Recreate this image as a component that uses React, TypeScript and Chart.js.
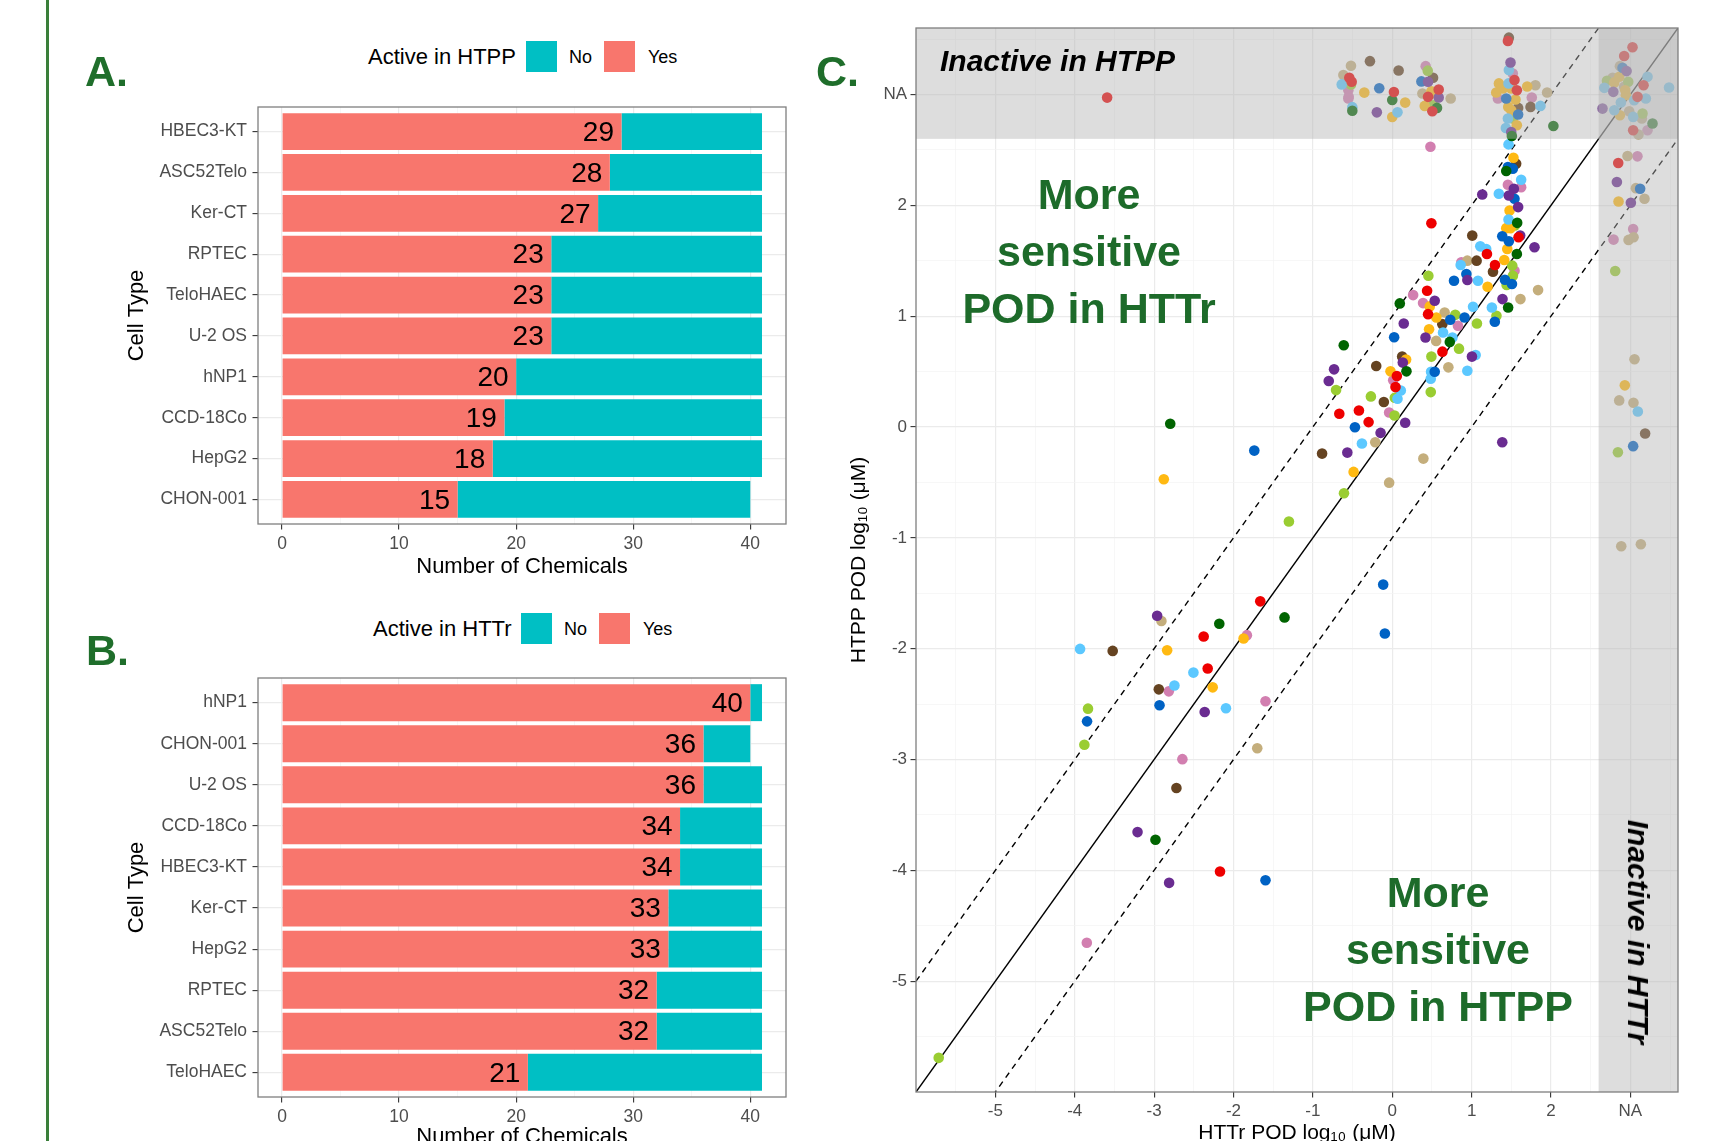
import React, { useEffect, useRef } from 'react';
import { Chart, registerables } from 'chart.js';
Chart.register(...registerables);

const FONT = "'Liberation Sans', Arial, Helvetica, sans-serif";
Chart.defaults.font.family = FONT;

// ---------- Panel A: Active in HTPP ----------
const htppCells = ['HBEC3-KT', 'ASC52Telo', 'Ker-CT', 'RPTEC', 'TeloHAEC', 'U-2 OS', 'hNP1', 'CCD-18Co', 'HepG2', 'CHON-001'];
const htppYes = [29, 28, 27, 23, 23, 23, 20, 19, 18, 15];
const htppNo = [12, 13, 14, 18, 18, 18, 21, 22, 23, 25];

// ---------- Panel B: Active in HTTr ----------
const httrCells = ['hNP1', 'CHON-001', 'U-2 OS', 'CCD-18Co', 'HBEC3-KT', 'Ker-CT', 'HepG2', 'RPTEC', 'ASC52Telo', 'TeloHAEC'];
const httrYes = [40, 36, 36, 34, 34, 33, 33, 32, 32, 21];
const httrNo = [1, 4, 5, 7, 7, 8, 8, 9, 9, 20];

const barTickValues = [0, 5, 10, 15, 20, 25, 30, 35, 40];
const barTickLabels = ['0', '', '10', '', '20', '', '30', '', '40'];

// ---------- Panel C: HTTr POD (x) vs HTPP POD (y), log10 uM; NA plotted at 3 ----------
const podTickValues = [-5, -4, -3, -2, -1, 0, 1, 2, 3];
const podTickLabels = ['-5', '-4', '-3', '-2', '-1', '0', '1', '2', 'NA'];
const naBandStart = 2.6;
const diagOffsets = [0, 1, -1];

const redPts: [number, number][] = [
  [-1.663, -1.573], [-2.376, -1.89], [-2.325, -2.179], [-2.17, -4.011],
  [-0.667, 0.119], [-0.42, 0.149], [-0.298, 0.044], [0.058, 0.46], [0.041, 0.36], [0.632, 0.68],
  [0.493, 1.839], [1.591, 1.712], [1.193, 1.561], [1.294, 1.462], [0.439, 1.229], [0.451, 1.018],
  [-3.592, 2.972], [-0.541, 3.151], [-0.511, 3.115], [0.021, 3.023], [0.585, 3.045], [0.451, 2.979],
  [0.505, 2.849], [1.457, 3.483], [1.54, 3.13], [1.57, 3.039], [3.027, 3.426], [2.922, 3.347],
  [3.166, 3.084], [3.09, 2.979], [3.035, 2.677], [2.847, 2.382],
];
const darkGreenPts: [number, number][] = [
  [-1.357, -1.718], [-2.179, -1.775], [-2.983, -3.724], [-2.797, 0.029], [-0.611, 0.738],
  [0.179, 0.502], [0.725, 0.768], [1.436, 2.31], [1.574, 1.842], [1.57, 1.561], [1.46, 1.078],
  [0.095, 1.115], [-0.503, 2.853], [0.0, 2.951], [0.564, 2.879], [1.507, 2.626], [2.03, 2.716],
  [3.279, 2.738],
];
const purplePts: [number, number][] = [
  [-2.962, -1.703], [-2.363, -2.572], [-3.209, -3.655], [-2.811, -4.113], [-0.733, 0.52],
  [-0.8, 0.415], [-0.147, -0.053], [-0.566, -0.231], [0.163, 0.038], [0.133, 0.581], [1.004, 0.635],
  [0.419, 0.807], [1.386, -0.137], [1.532, 2.149], [1.469, 2.089], [1.134, 2.098], [1.586, 1.984],
  [1.612, 1.727], [1.792, 1.622], [0.946, 1.326], [1.389, 1.154], [0.535, 1.139], [0.145, 0.934],
  [-0.194, 2.839], [0.451, 3.115], [0.585, 2.973], [1.49, 3.289], [1.499, 2.662], [2.952, 3.211],
  [2.785, 3.024], [2.649, 2.873], [2.83, 2.21], [3.006, 2.023],
];
const bluePts: [number, number][] = [
  [-0.114, -1.422], [-0.093, -1.863], [-3.845, -2.656], [-2.932, -2.511], [-1.597, -4.089],
  [-1.738, -0.213], [-0.47, -0.002], [0.535, 0.499], [0.024, 0.81], [1.457, 2.346], [1.519, 2.331],
  [1.54, 2.059], [1.386, 1.721], [1.469, 1.676], [1.42, 1.329], [1.508, 1.29], [0.934, 1.38],
  [0.778, 1.32], [1.292, 0.949], [0.731, 0.967], [0.911, 0.988], [-0.164, 3.057], [0.367, 3.118],
  [1.436, 2.964], [1.586, 2.819], [2.901, 3.241], [3.123, 2.149], [3.035, -0.173],
];
const lightBluePts: [number, number][] = [
  [-3.933, -2.002], [-2.505, -2.216], [-2.744, -2.333], [-2.095, -2.538], [-0.382, -0.149],
  [0.108, 0.33], [0.066, 0.255], [0.489, 0.499], [0.485, 0.436], [0.946, 0.508], [1.051, 0.65],
  [0.758, 0.807], [1.465, 2.55], [1.624, 2.231], [1.343, 2.104], [1.465, 1.872], [1.109, 1.63],
  [1.184, 1.606], [0.862, 1.462], [1.08, 1.32], [1.255, 1.078], [1.018, 1.085], [0.64, 0.852],
  [-0.637, 3.091], [-0.503, 2.886], [0.066, 2.839], [1.469, 3.22], [1.465, 3.1], [1.457, 2.783],
  [1.431, 2.698], [1.867, 2.897], [3.216, 3.16], [2.672, 3.06], [3.048, 2.949], [3.195, 2.964],
  [3.487, 3.063], [2.88, 2.928], [2.797, 2.858], [3.035, 2.798], [3.094, 0.14],
];
const orangePts: [number, number][] = [
  [-1.873, -1.908], [-2.836, -2.014], [-2.262, -2.349], [-2.878, -0.472], [-0.487, -0.405],
  [-0.022, 0.502], [0.175, 0.608], [1.527, 2.43], [1.478, 1.953], [1.436, 1.794], [1.49, 1.794],
  [1.449, 1.606], [1.411, 1.507], [1.201, 1.266], [0.472, 1.088], [0.556, 0.988], [0.464, 0.882],
  [-0.352, 3.017], [0.163, 2.927], [0.0, 2.797], [0.493, 3.03], [0.564, 3.0], [0.409, 2.897],
  [1.344, 3.1], [1.394, 3.054], [1.499, 3.054], [1.31, 3.018], [1.553, 2.955], [1.461, 2.888],
  [1.499, 2.858], [1.57, 2.722], [1.7, 3.072], [2.797, 3.109], [2.86, 3.16], [2.935, 3.039],
  [2.943, 2.994], [2.868, 2.813], [2.851, 2.035], [2.93, 0.376],
];
const lightGreenPts: [number, number][] = [
  [-3.833, -2.541], [-3.879, -2.867], [-5.714, -5.692], [-1.302, -0.852], [-0.708, 0.333],
  [-0.608, -0.598], [-0.269, 0.276], [0.032, 0.264], [0.029, 0.104], [0.485, 0.315], [0.493, 0.635],
  [0.841, 0.707], [1.545, 1.818], [1.512, 1.456], [1.52, 1.365], [1.441, 1.281], [1.313, 1.003],
  [1.067, 0.934], [0.455, 1.365], [0.794, 1.012], [-0.52, 3.091], [0.447, 3.215], [0.514, 2.903],
  [1.519, 2.783], [2.705, 3.124], [2.973, 3.115], [3.153, 2.828], [2.809, 1.407], [2.843, -0.228],
];
const brownPts: [number, number][] = [
  [-3.522, -2.02], [-2.941, -2.367], [-2.719, -3.257], [-0.884, -0.24], [-0.202, 0.55],
  [-0.106, 0.225], [0.125, 0.635], [1.561, 2.376], [1.008, 1.727], [1.269, 1.401], [1.063, 1.501],
  [0.631, 0.928], [-0.281, 3.301], [0.08, 3.217], [0.514, 3.151], [1.469, 3.513], [1.586, 2.879],
  [1.742, 2.888], [3.186, -0.059],
];
const tanPts: [number, number][] = [
  [-2.908, -1.751], [-1.701, -2.898], [-0.214, -0.137], [-0.039, -0.502], [0.392, -0.285],
  [0.707, 0.538], [0.553, 0.777], [0.946, 1.501], [1.837, 1.235], [1.615, 1.154], [0.66, 1.033],
  [-0.52, 3.259], [-0.616, 3.175], [0.38, 3.009], [0.736, 2.964], [1.804, 3.084], [1.951, 3.018],
  [2.868, 3.256], [2.776, 3.151], [2.922, 3.069], [2.985, 2.849], [3.145, 2.783], [3.102, 2.638],
  [2.964, 2.445], [3.069, 2.155], [3.178, 2.059], [2.977, 1.688], [3.04, 1.712], [3.052, 0.611],
  [2.859, 0.24], [3.039, 0.219], [2.885, -1.076], [3.132, -1.058],
];
const pinkPts: [number, number][] = [
  [-1.831, -1.878], [-2.815, -2.385], [-1.597, -2.475], [-2.644, -2.997], [-3.848, -4.653],
  [0.012, 0.421], [-0.039, 0.131], [0.481, 2.529], [1.457, 2.186], [1.624, 2.164], [1.541, 1.41],
  [0.87, 1.486], [0.263, 1.19], [0.388, 1.118], [0.828, 0.913], [-0.553, 3.039], [-0.549, 2.979],
  [-0.553, 2.964], [0.421, 3.256], [1.519, 3.19], [1.331, 2.964], [1.758, 2.973], [3.216, 2.677],
  [3.089, 2.442], [3.035, 1.787], [2.788, 1.691],
];

const pointGroups: { color: string; pts: [number, number][] }[] = [
  { color: '#EE0000', pts: redPts },
  { color: '#006400', pts: darkGreenPts },
  { color: '#6A2C91', pts: purplePts },
  { color: '#0062C4', pts: bluePts },
  { color: '#5CC8FF', pts: lightBluePts },
  { color: '#FFB912', pts: orangePts },
  { color: '#9ACD32', pts: lightGreenPts },
  { color: '#654321', pts: brownPts },
  { color: '#C4AE7C', pts: tanPts },
  { color: '#D27FB0', pts: pinkPts },
];

const TICK_COLOR = '#4D4D4D';
const PANEL_BORDER = '#7F7F7F';

const panelBorder = {
  id: 'panelBorder',
  afterDraw(chart: any) {
    const { ctx, chartArea: a } = chart;
    ctx.save();
    ctx.strokeStyle = PANEL_BORDER;
    ctx.lineWidth = 1.3;
    ctx.strokeRect(a.left, a.top, a.right - a.left, a.bottom - a.top);
    ctx.restore();
  },
};

type BarProps = {
  cells: string[]; yes: number[]; no: number[];
  left: number; top: number; width: number; height: number;
  padTop: number; padRight: number; yAxisW: number; xAxisH: number;
};

function BarPanel(p: BarProps) {
  const ref = useRef<HTMLCanvasElement>(null);
  useEffect(() => {
    const canvas = ref.current!;
    const valueLabels = {
      id: 'valueLabels',
      afterDatasetsDraw(chart: any) {
        const { ctx, scales } = chart;
        ctx.save();
        ctx.font = `28px ${FONT}`;
        ctx.fillStyle = '#000';
        ctx.textAlign = 'right';
        ctx.textBaseline = 'middle';
        p.yes.forEach((v, i) => {
          ctx.fillText(String(v), scales.x.getPixelForValue(v) - 7.5, scales.y.getPixelForValue(i + 1) + 1.5);
        });
        ctx.restore();
      },
    };
    const chart = new Chart(canvas, {
      type: 'bar',
      data: {
        datasets: [
          {
            label: 'Yes',
            data: p.yes.map((v, i) => ({ x: v, y: i + 1 })),
            backgroundColor: '#F8766D',
            borderWidth: 0,
            barPercentage: 0.9,
            categoryPercentage: 1,
          },
          {
            label: 'No',
            data: p.no.map((v, i) => ({ x: v, y: i + 1 })),
            backgroundColor: '#00BFC4',
            borderWidth: 0,
            barPercentage: 0.9,
            categoryPercentage: 1,
          },
        ],
      } as any,
      options: {
        indexAxis: 'y',
        responsive: false,
        maintainAspectRatio: false,
        animation: false,
        events: [],
        layout: { padding: { top: p.padTop, right: p.padRight, left: 0, bottom: 0 } },
        plugins: { legend: { display: false }, tooltip: { enabled: false } },
        scales: {
          x: {
            type: 'linear',
            stacked: true,
            offset: false,
            min: -2.05,
            max: 43.05,
            afterBuildTicks: (s: any) => { s.ticks = barTickValues.map((v) => ({ value: v })); },
            afterFit: (s: any) => { s.height = p.xAxisH; },
            ticks: {
              callback: (v: any) => barTickLabels[barTickValues.indexOf(Number(v))] ?? '',
              font: { size: 17.5, family: FONT },
              color: TICK_COLOR,
              padding: 4.5,
              maxRotation: 0,
              autoSkip: false,
            },
            grid: {
              offset: false,
              color: (c: any) => (c.tick && c.tick.value % 10 === 0 ? '#EBEBEB' : '#F3F3F3'),
              lineWidth: (c: any) => (c.tick && c.tick.value % 10 === 0 ? 1.2 : 0.7),
              tickColor: (c: any) => (c.tick && c.tick.value % 10 === 0 ? '#333333' : 'rgba(0,0,0,0)'),
              tickWidth: 1.1,
              tickLength: 5.5,
            },
            border: { display: false },
            title: {
              display: true,
              text: 'Number of Chemicals',
              font: { size: 22, family: FONT },
              color: '#000',
              padding: { top: 0, bottom: 4 },
            },
          },
          y: {
            type: 'linear',
            stacked: true,
            reverse: true,
            offset: false,
            min: 0.4,
            max: p.cells.length + 0.6,
            afterBuildTicks: (s: any) => { s.ticks = p.cells.map((_, i) => ({ value: i + 1 })); },
            afterFit: (s: any) => { s.width = p.yAxisW; },
            ticks: {
              callback: (v: any) => p.cells[Math.round(Number(v)) - 1] ?? '',
              font: { size: 17.5, family: FONT },
              color: TICK_COLOR,
              padding: 5.5,
              autoSkip: false,
            },
            grid: {
              offset: false,
              color: '#EBEBEB',
              lineWidth: 1.2,
              tickColor: '#333333',
              tickWidth: 1.1,
              tickLength: 5.5,
            },
            border: { display: false },
            title: {
              display: true,
              text: 'Cell Type',
              font: { size: 22, family: FONT },
              color: '#000',
              padding: { top: 4, bottom: 0 },
            },
          },
        },
      } as any,
      plugins: [valueLabels, panelBorder],
    });
    return () => chart.destroy();
  }, []);
  return (
    <canvas
      ref={ref}
      width={p.width}
      height={p.height}
      style={{ position: 'absolute', left: p.left, top: p.top, width: p.width, height: p.height }}
    />
  );
}

function ScatterPanel() {
  const ref = useRef<HTMLCanvasElement>(null);
  useEffect(() => {
    const canvas = ref.current!;
    const naBands = {
      id: 'naBands',
      afterDatasetsDraw(chart: any) {
        const { ctx, chartArea: a, scales } = chart;
        ctx.save();
        ctx.fillStyle = 'rgba(180,180,180,0.45)';
        const yb = scales.y.getPixelForValue(naBandStart);
        ctx.fillRect(a.left, a.top, a.right - a.left, yb - a.top);
        const xb = scales.x.getPixelForValue(naBandStart);
        ctx.fillRect(xb, a.top, a.right - xb, a.bottom - a.top);
        ctx.restore();
      },
    };
    const minor = (s: any) => {
      const vals: number[] = [];
      for (let v = -5.5; v <= 3.51; v += 0.5) vals.push(Math.round(v * 10) / 10);
      s.ticks = vals.map((v) => ({ value: v }));
    };
    const isMajor = (c: any) => c.tick && podTickValues.includes(c.tick.value);
    const axisCommon = (title: string, isX: boolean) => ({
      type: 'linear',
      min: -6,
      max: 3.6,
      afterBuildTicks: minor,
      afterFit: (s: any) => {
        if (isX) s.height = 58; else s.width = 76;
      },
      ticks: {
        callback: (v: any) => podTickLabels[podTickValues.indexOf(Number(v))] ?? '',
        font: { size: 17, family: FONT },
        color: TICK_COLOR,
        padding: isX ? 4 : 3.5,
        maxRotation: 0,
        autoSkip: false,
      },
      grid: {
        color: (c: any) => (isMajor(c) ? '#EBEBEB' : '#F3F3F3'),
        lineWidth: (c: any) => (isMajor(c) ? 1.2 : 0.7),
        tickColor: (c: any) => (isMajor(c) ? '#333333' : 'rgba(0,0,0,0)'),
        tickWidth: 1.1,
        tickLength: 5.5,
      },
      border: { display: false },
      title: {
        display: true,
        text: title,
        font: { size: 21, family: FONT },
        color: '#000',
        padding: isX ? { top: 0, bottom: 4 } : { top: 7, bottom: 0 },
      },
    });
    const chart = new Chart(canvas, {
      type: 'scatter',
      data: {
        datasets: [
          ...pointGroups.map((g) => ({
            type: 'scatter',
            data: g.pts.map(([x, y]) => ({ x, y })),
            backgroundColor: g.color,
            borderWidth: 0,
            pointRadius: 5.3,
            order: 0,
          })),
          ...diagOffsets.map((o) => ({
            type: 'line',
            data: [{ x: -6, y: -6 + o }, { x: 3.6, y: 3.6 + o }],
            borderColor: '#000',
            borderWidth: 1.4,
            borderDash: o === 0 ? [] : [6, 5],
            pointRadius: 0,
            showLine: true,
            fill: false,
            order: 5,
          })),
        ],
      } as any,
      options: {
        responsive: false,
        maintainAspectRatio: false,
        animation: false,
        events: [],
        layout: { padding: { top: 28, right: 55, left: 0, bottom: 0 } },
        plugins: { legend: { display: false }, tooltip: { enabled: false } },
        scales: {
          x: axisCommon('HTTr POD log\u2081\u2080 (\u03BCM)', true),
          y: axisCommon('HTPP POD log\u2081\u2080 (\u03BCM)', false),
        },
      } as any,
      plugins: [naBands, panelBorder],
    });
    return () => chart.destroy();
  }, []);
  return (
    <canvas
      ref={ref}
      width={893}
      height={1150}
      style={{ position: 'absolute', left: 840, top: 0, width: 893, height: 1150 }}
    />
  );
}

const abs = (s: React.CSSProperties): React.CSSProperties => ({ position: 'absolute', whiteSpace: 'nowrap', fontFamily: FONT, ...s });

function Legend({ title, left, top }: { title: string; left: number; top: number }) {
  const w = title.endsWith('HTPP') ? 0 : -10;
  return (
    <>
      <div style={abs({ left, top, fontSize: 22, lineHeight: '30px', color: '#000' })}>{title}</div>
      <div style={abs({ left: left + 158 + w, top: top - 1, width: 31, height: 31, background: '#00BFC4' })} />
      <div style={abs({ left: left + 201 + w, top, fontSize: 18, lineHeight: '30px', color: '#000' })}>No</div>
      <div style={abs({ left: left + 236 + w, top: top - 1, width: 31, height: 31, background: '#F8766D' })} />
      <div style={abs({ left: left + 280 + w, top, fontSize: 18, lineHeight: '30px', color: '#000' })}>Yes</div>
    </>
  );
}

const LETTER_GREEN = '#1F6E2B';
const NOTE_GREEN = '#1D6B2A';

export default function App() {
  useEffect(() => {
    document.body.style.margin = '0';
    document.body.style.overflow = 'hidden';
  }, []);
  return (
    <div style={{ position: 'absolute', left: 0, top: 0, width: 1733, height: 1141, overflow: 'hidden', background: '#fff' }}>
      <div style={abs({ left: 46, top: 0, width: 3, height: 1141, background: '#3A7F3A' })} />

      <BarPanel cells={htppCells} yes={htppYes} no={htppNo} left={120} top={90} width={700} height={494}
        padTop={17} padRight={34} yAxisW={138} xAxisH={60} />
      <BarPanel cells={httrCells} yes={httrYes} no={httrNo} left={120} top={660} width={700} height={494}
        padTop={18} padRight={34} yAxisW={138} xAxisH={57} />
      <ScatterPanel />

      <Legend title="Active in HTPP" left={368} top={42} />
      <Legend title="Active in HTTr" left={373} top={614} />

      <div style={abs({ left: 85, top: 46, fontSize: 43, fontWeight: 'bold', lineHeight: '50px', color: LETTER_GREEN })}>A.</div>
      <div style={abs({ left: 86, top: 625, fontSize: 43, fontWeight: 'bold', lineHeight: '50px', color: LETTER_GREEN })}>B.</div>
      <div style={abs({ left: 816, top: 46, fontSize: 43, fontWeight: 'bold', lineHeight: '50px', color: LETTER_GREEN })}>C.</div>

      <div style={abs({ left: 940, top: 43, fontSize: 30, fontWeight: 'bold', fontStyle: 'italic', lineHeight: '36px', color: '#000' })}>
        Inactive in HTPP
      </div>
      <div style={abs({ left: 1638, top: 932, fontSize: 30, fontWeight: 'bold', fontStyle: 'italic', lineHeight: '36px', color: '#000', transform: 'translate(-50%, -50%) rotate(90deg)' })}>
        Inactive in HTTr
      </div>

      <div style={abs({ left: 889, top: 166, width: 400, textAlign: 'center', fontSize: 43, fontWeight: 'bold', lineHeight: '57px', color: NOTE_GREEN })}>
        More<br />sensitive<br />POD in HTTr
      </div>
      <div style={abs({ left: 1238, top: 864, width: 400, textAlign: 'center', fontSize: 43, fontWeight: 'bold', lineHeight: '57px', color: NOTE_GREEN })}>
        More<br />sensitive<br />POD in HTPP
      </div>
    </div>
  );
}
